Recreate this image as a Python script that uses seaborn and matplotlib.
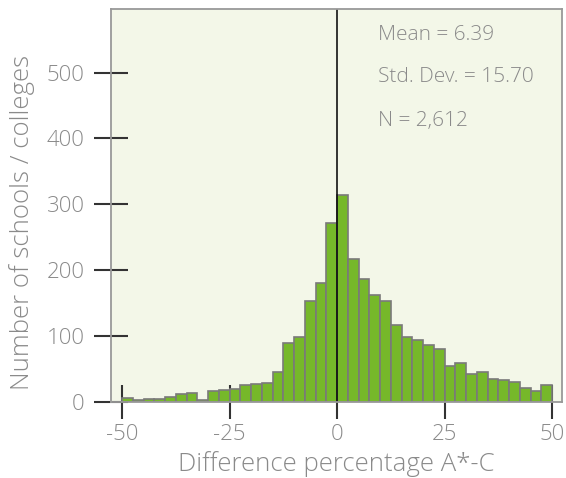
import matplotlib
matplotlib.use("Agg")
import matplotlib.pyplot as plt
import seaborn as sns
import numpy as np
import pandas as pd

# histogram counts, bins of 2.5 from -50 to 50
bin_edges = np.arange(-50, 50.01, 2.5)
counts = [6, 3, 4, 4, 8, 12, 13, 3, 16, 18,
          19, 26, 27, 29, 45, 90, 99, 153, 181, 272,
          314, 217, 186, 163, 154, 117, 99, 94, 86, 81,
          54, 59, 43, 45, 35, 33, 30, 22, 17, 26]
bin_centers = bin_edges[:-1] + 1.25

stats_lines = ["Mean = 6.39", "Std. Dev. = 15.70", "N = 2,612"]
stats_y = [557, 493, 426]
x_ticks = [-50, -25, 0, 25, 50]
y_ticks = [0, 100, 200, 300, 400, 500]

df = pd.DataFrame({"diff": bin_centers, "n": counts})

sns.set_style("white")
plt.rcParams['font.family'] = ['Open Sans', 'DejaVu Sans']
grey = "#8a8a8a"

fig = plt.figure(figsize=(5.66, 4.78), dpi=100)
ax = fig.add_axes([0.196, 0.159, 0.797, 0.8215])
ax.set_facecolor("#f3f7e8")

sns.histplot(data=df, x="diff", weights="n", binwidth=2.5, binrange=(-50, 50),
             ax=ax, color="#76b82a", edgecolor="#7a7a7a", linewidth=1.2, alpha=1)

ax.axvline(0, color="black", lw=1.1)

ax.set_xlim(-52.6, 52.3)
ax.set_ylim(0, 596)
ax.set_xticks(x_ticks)
ax.set_xticklabels([str(t) for t in x_ticks])
ax.set_yticks(y_ticks)

for s in ax.spines.values():
    s.set_color("#999999")
    s.set_linewidth(1.3)

ax.tick_params(axis="both", direction="inout", length=24, width=1.5,
               color="#333333", labelcolor=grey, labelsize=16,
               bottom=True, left=True)
ax.tick_params(axis="y", pad=7)
ax.tick_params(axis="x", pad=4)

for lbl in ax.get_xticklabels() + ax.get_yticklabels():
    lbl.set_fontweight("light")

ax.set_xlabel("Difference percentage A*-C", fontsize=18.5, color=grey,
              fontweight="light", labelpad=4)
ax.set_ylabel("Number of schools / colleges", fontsize=18.5, color=grey,
              fontweight="light")
ax.yaxis.set_label_coords(-0.168, 0.456)

for line, yv in zip(stats_lines, stats_y):
    ax.text(9.4, yv, line, fontsize=15, color=grey, fontweight="light",
            va="center")

fig.savefig("out.png", dpi=100, facecolor="white")
